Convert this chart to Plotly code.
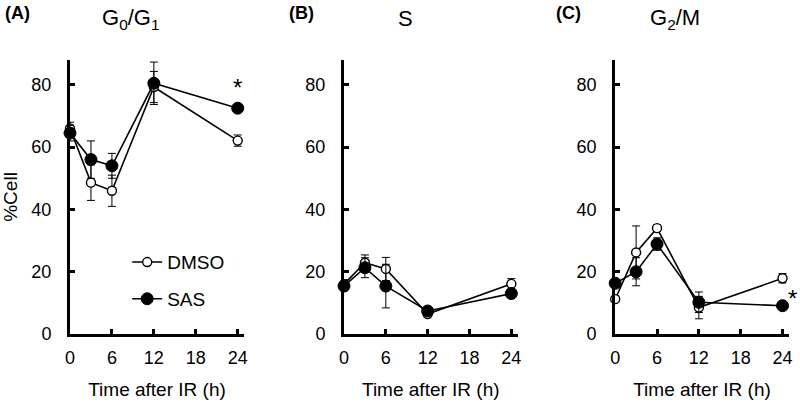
import plotly.graph_objects as go

# time points (h after IR)
times = [0, 3, 6, 12, 24]

# G0/G1 phase (%)
g1_dmso = [66.0, 48.6, 46.0, 79.3, 62.1]
g1_dmso_err = [2.0, 5.7, 5.0, 5.0, 1.8]
g1_sas = [64.5, 56.0, 54.0, 80.5, 72.5]
g1_sas_err = [2.5, 6.0, 4.0, 6.8, 1.0]

# S phase (%)
s_dmso = [16.0, 22.9, 20.9, 6.4, 16.1]
s_dmso_err = [1.5, 2.5, 3.7, 0.8, 1.7]
s_sas = [15.4, 21.3, 15.4, 7.4, 13.0]
s_sas_err = [1.5, 3.2, 7.0, 0.8, 1.0]

# G2/M phase (%)
g2_dmso = [11.2, 26.2, 34.0, 8.5, 17.9]
g2_dmso_err = [1.0, 8.5, 1.0, 3.6, 1.5]
g2_sas = [16.3, 20.0, 28.9, 10.2, 9.1]
g2_sas_err = [1.0, 4.5, 2.0, 3.3, 0.5]

x_ticks = [0, 6, 12, 18, 24]
y_ticks = [0, 20, 40, 60, 80]

FONT = "Arial, Liberation Sans, sans-serif"

panels = [
    ("x", "y", g1_dmso, g1_dmso_err, g1_sas, g1_sas_err),
    ("x2", "y2", s_dmso, s_dmso_err, s_sas, s_sas_err),
    ("x3", "y3", g2_dmso, g2_dmso_err, g2_sas, g2_sas_err),
]

fig = go.Figure()

for i, (xa, ya, dmso, dmso_err, sas, sas_err) in enumerate(panels):
    fig.add_trace(
        go.Scatter(
            x=times, y=dmso, xaxis=xa, yaxis=ya, name="DMSO", legendgroup="dmso",
            mode="lines+markers", showlegend=(i == 0), cliponaxis=False,
            line=dict(color="black", width=1.6),
            marker=dict(symbol="circle", size=9, color="white",
                        line=dict(color="black", width=1.4)),
            error_y=dict(type="data", array=dmso_err, visible=True,
                         color="black", thickness=1, width=4),
        )
    )
    fig.add_trace(
        go.Scatter(
            x=times, y=sas, xaxis=xa, yaxis=ya, name="SAS", legendgroup="sas",
            mode="lines+markers", showlegend=(i == 0), cliponaxis=False,
            line=dict(color="black", width=1.6),
            marker=dict(symbol="circle", size=12, color="black",
                        line=dict(color="black", width=1)),
            error_y=dict(type="data", array=sas_err, visible=True,
                         color="black", thickness=1, width=4),
        )
    )

x_domains = [[0.0875, 0.305], [0.43, 0.647], [0.769, 0.986]]
y_domain = [0.169, 0.851]

axis_common = dict(
    showline=True, linecolor="black", linewidth=3,
    ticks="inside", ticklen=5, tickwidth=3, tickcolor="black",
    showgrid=False, zeroline=False, automargin=False,
    tickfont=dict(family=FONT, size=18, color="black"),
)

layout = {}
for i in range(3):
    suffix = "" if i == 0 else str(i + 1)
    layout["xaxis" + suffix] = dict(
        axis_common, domain=x_domains[i], anchor="y" + suffix,
        range=[0, 24.9], tickvals=x_ticks, ticklabelstandoff=5,
        title=dict(text="Time after IR (h)", standoff=17,
                   font=dict(family=FONT, size=19, color="black")),
    )
    layout["yaxis" + suffix] = dict(
        axis_common, domain=y_domain, anchor="x" + suffix,
        range=[0, 88], tickvals=y_ticks, ticklabelstandoff=12,
    )
layout["yaxis"]["title"] = dict(text="%Cell", standoff=14,
                                font=dict(family=FONT, size=19, color="black"))

fig.update_layout(
    **layout,
    width=800, height=402,
    margin=dict(l=0, r=0, t=0, b=0),
    paper_bgcolor="white", plot_bgcolor="white",
    font=dict(family=FONT, color="black"),
    legend=dict(
        x=0.159, y=0.395, xanchor="left", yanchor="top",
        font=dict(family=FONT, size=19, color="black"),
        bgcolor="rgba(0,0,0,0)", tracegroupgap=9,
        traceorder="grouped",
    ),
)

# panel letters and phase titles
labels = [("(A)", 3, "G<sub>0</sub>/G<sub>1</sub>", 130),
          ("(B)", 287, "S", 405),
          ("(C)", 554, "G<sub>2</sub>/M", 675)]
for letter, lx, title, tx in labels:
    fig.add_annotation(text="<b>%s</b>" % letter, xref="paper", yref="paper",
                       x=lx / 800, y=1 - 13 / 402, xanchor="left", yanchor="middle",
                       showarrow=False, font=dict(family=FONT, size=18, color="black"))
    fig.add_annotation(text=title, xref="paper", yref="paper",
                       x=tx / 800, y=1 - 19 / 402, xanchor="center", yanchor="middle",
                       showarrow=False, font=dict(family=FONT, size=22, color="black"))

# significance marks
fig.add_annotation(text="*", xref="x", yref="y", x=24, y=79, showarrow=False,
                   font=dict(family=FONT, size=24, color="black"))
fig.add_annotation(text="*", xref="paper", yref="paper", x=0.9985, y=1 - 314 / 402,
                   xanchor="right", showarrow=False,
                   font=dict(family=FONT, size=24, color="black"))

fig.write_html("out.html", config={"displayModeBar": False},
               post_script="document.body.style.margin = '0';")
